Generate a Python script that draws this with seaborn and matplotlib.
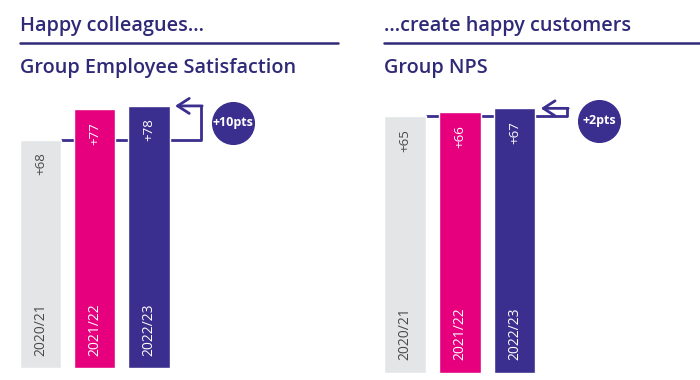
import matplotlib
matplotlib.use("Agg")
import matplotlib.pyplot as plt
import seaborn as sns
from matplotlib.lines import Line2D
from matplotlib.transforms import offset_copy

YEARS = ["2020/21", "2021/22", "2022/23"]
ESAT = [68, 77, 78]
NPS = [65, 66, 67]
BAR_COLORS = ["#e4e5e7", "#e6007e", "#3a2e8e"]
VALUE_COLORS = ["#4a4a4a", "white", "white"]
NAVY = "#2e2a78"
LINE = "#3a2e8e"

W, H = 700, 380


def px(x, y):
    # pixel position (from top-left) -> figure fraction
    return x / W, 1 - y / H


def panel(fig, rect, values, xlim, ylim, badge, badge_drop):
    ax = fig.add_axes(rect)
    sns.barplot(x=YEARS, y=values, hue=YEARS, palette=BAR_COLORS, legend=False,
                saturation=1, width=0.76, ax=ax, zorder=2)
    ax.set_xlim(*xlim)
    ax.set_ylim(*ylim)
    ax.axis("off")

    half = 0.38
    xv = len(values) - 1 + 0.96
    # connector from first bar to the arrow
    ax.plot([half, xv], [values[0], values[0]], color=LINE, lw=2, zorder=1,
            solid_capstyle="butt")
    ax.plot([xv, xv], [values[0], values[-1]], color=LINE, lw=2, zorder=1)
    ax.annotate("", xy=(len(values) - 1 + half + 0.1, values[-1]), xytext=(xv + 0.02, values[-1]),
                arrowprops=dict(arrowstyle="->,head_length=0.7,head_width=0.45",
                                color=LINE, lw=2, shrinkA=0, shrinkB=0))

    for i, (year, v) in enumerate(zip(YEARS, values)):
        ax.annotate(f"+{v}", xy=(i, v), xytext=(0, -9), textcoords="offset points",
                    rotation=90, ha="center", va="top", fontsize=9.5,
                    color=VALUE_COLORS[i])
        ax.annotate(year, xy=(i, 0), xytext=(0, 9), textcoords="offset points",
                    rotation=90, ha="center", va="bottom", fontsize=10,
                    color=VALUE_COLORS[i])

    bx = len(values) - 1 + 1.55
    tr = offset_copy(ax.transData, fig=fig, x=0, y=-badge_drop, units="points")
    ax.plot([bx], [values[-1]], marker="o", markersize=30, color=LINE,
            clip_on=False, zorder=3, transform=tr)
    ax.text(bx, values[-1], badge, transform=tr, ha="center", va="center",
            fontsize=9, color="white", fontweight="bold", zorder=4)
    return ax


sns.set_theme(style="white")
plt.rcParams["font.family"] = ["Open Sans", "DejaVu Sans"]

fig = plt.figure(figsize=(7, 3.8), dpi=100)

# headings and rules
for x0, x1, head, sub in [(20, 338, "Happy colleagues...", "Group Employee Satisfaction"),
                          (384, 700, "...create happy customers", "Group NPS")]:
    fx, fy = px(x0, 31)
    fig.text(fx, fy, head, fontsize=14.3, fontweight="semibold", color=NAVY, va="baseline")
    fx, fy = px(x0, 73)
    fig.text(fx, fy, sub, fontsize=14.3, fontweight="semibold", color=NAVY, va="baseline")
    a, b = px(x0, 43)
    c, _ = px(x1, 43)
    fig.add_artist(Line2D([a, c], [b, b], color=NAVY, lw=1.8, transform=fig.transFigure))

# left panel: baseline at 368px, 3.36 px per point, 54.25 px per bar slot
panel(fig, [0, 12 / H, 350 / W, 368 / H], ESAT,
      (-40.5 / 54.25, (350 - 40.5) / 54.25), (0, 368 / 3.36), "+10pts", 12)
# right panel: baseline at 373px, 3.95 px per point, 54.75 px per bar slot
panel(fig, [350 / W, 7 / H, 350 / W, 373 / H], NPS,
      (-55 / 54.75, (350 - 55) / 54.75), (0, 373 / 3.95), "+2pts", 9)

fig.savefig("out.png", dpi=100)
